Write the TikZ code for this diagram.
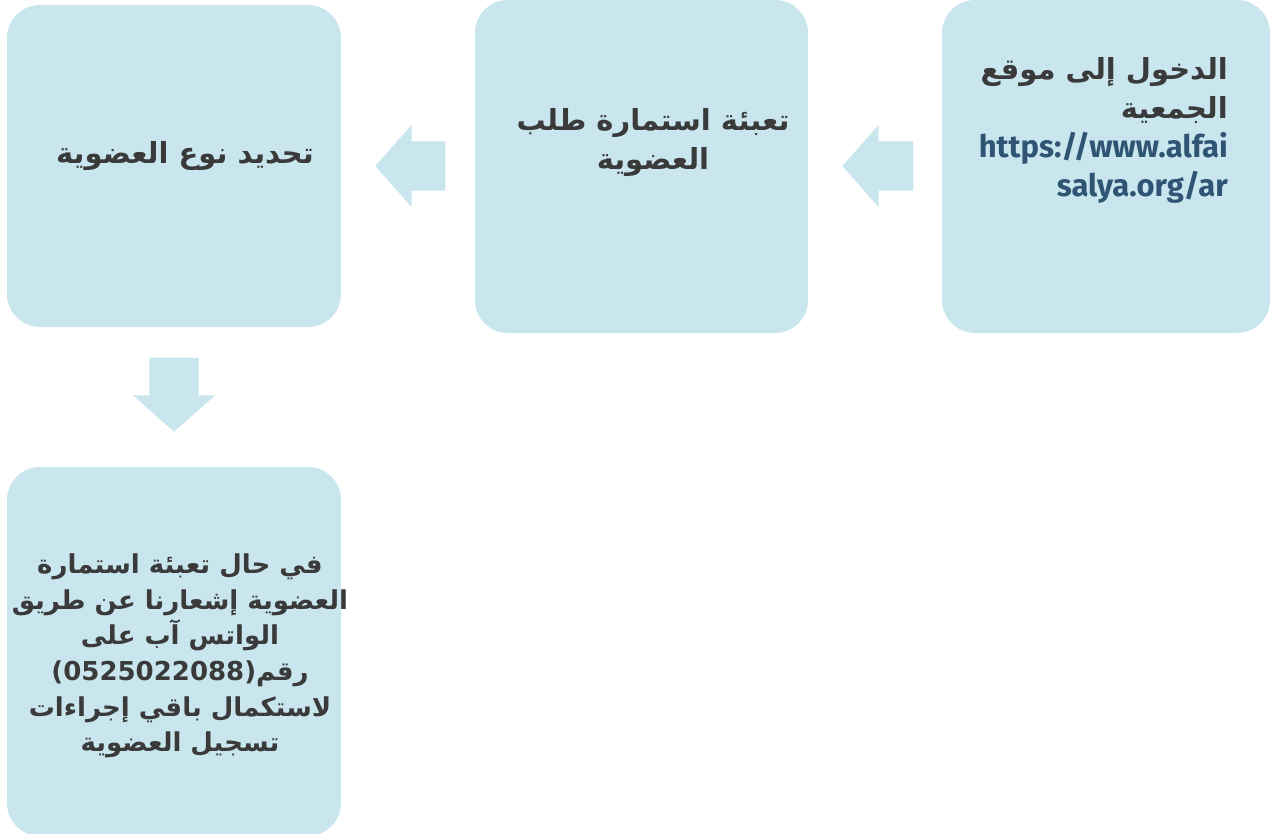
\documentclass[tikz,border=0pt]{standalone}
\usepackage{fontspec}
\TeXXeTstate=1
\newfontfamily\arabicfont[Script=Arabic]{DejaVu Sans}
\newfontfamily\urlfont{Fira Sans}
\usetikzlibrary{shapes.arrows}
\definecolor{boxblue}{HTML}{C9E6EE}
\definecolor{txtgray}{HTML}{3A3A3A}
\definecolor{urlblue}{HTML}{2F5474}
\newcommand{\artext}[1]{{\arabicfont\bfseries\beginR #1\endR}}
\tikzset{stepbox/.style={fill=boxblue, rounded corners=33pt, inner sep=0pt},
         steptext/.style={text=txtgray, inner sep=0pt, font=\fontsize{29}{39}\selectfont},
         flowarrow/.style={single arrow, fill=boxblue, anchor=tip,
                           single arrow head extend=16.5pt, single arrow tip angle=97},
         leftarrow/.style={flowarrow, shape border rotate=180, inner xsep=0pt, inner ysep=24.5pt},
         downarrow/.style={flowarrow, shape border rotate=270, inner xsep=24.5pt, inner ysep=0pt}}

\begin{document}
\begin{tikzpicture}[x=1pt,y=-1pt]
   \useasboundingbox (0,0) rectangle (1276,834);
   % boxes
   \node[stepbox, minimum width=328pt, minimum height=333pt] (site) at (1106,166.5) {};
   \node[stepbox, minimum width=333pt, minimum height=333pt] (form) at (641.5,166.5) {};
   \node[stepbox, minimum width=334pt, minimum height=322pt] (type) at (174,166) {};
   \node[stepbox, minimum width=334pt, minimum height=369pt] (note) at (174,651.5) {};
   % arrows
   \node[leftarrow, minimum height=71pt] (toform) at (842,166) {};
   \node[leftarrow, minimum height=70pt] (totype) at (375,166) {};
   \node[downarrow, minimum height=74pt] (tonote) at (174,432) {};
   % texts
   \node[steptext, anchor=north east, align=right] (sitetext) at (1228,57)
     {\artext{الدخول إلى موقع}\\ \artext{الجمعية}\\
      {\fontsize{31}{39}\selectfont\urlfont\bfseries\color{urlblue}https://www.alfai}\\
      {\fontsize{31}{39}\selectfont\urlfont\bfseries\color{urlblue}salya.org/ar}};
   \node[steptext, align=center] (formtext) at (653,143)
     {\artext{تعبئة استمارة طلب}\\ \artext{العضوية}};
   \node[steptext] (typetext) at (185,156) {\artext{تحديد نوع العضوية}};
   \node[steptext, align=center, font=\fontsize{26}{35.6}\selectfont] (notetext) at (180,656)
     {\artext{في حال تعبئة استمارة}\\
      \artext{العضوية إشعارنا عن طريق}\\
      \artext{الواتس آب على}\\
      \artext{رقم\beginL(0525022088)\endL}\\
      \artext{لاستكمال باقي إجراءات}\\
      \artext{تسجيل العضوية}};
\end{tikzpicture}
\end{document}
